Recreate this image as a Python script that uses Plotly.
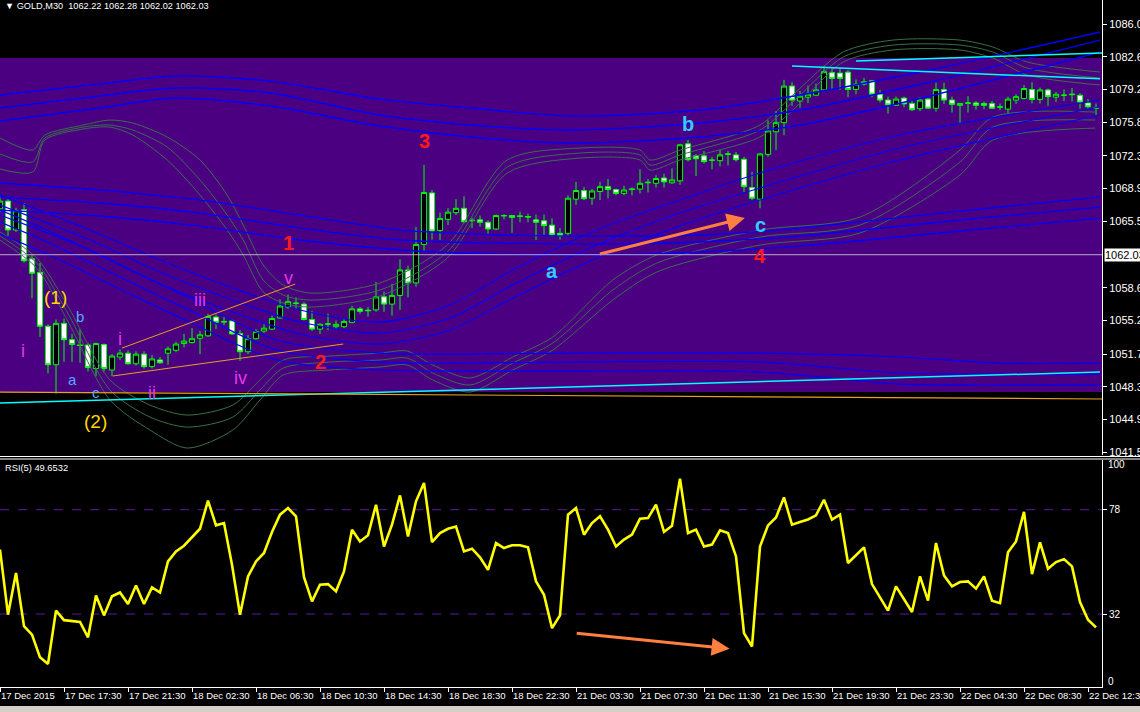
import plotly.graph_objects as go

# ---------------- data ----------------
tick_bars = [0, 8, 16, 24, 32, 40, 48, 56, 64, 72, 80, 88, 96, 104, 112, 120, 128, 136]
tick_text = ["17 Dec 2015", "17 Dec 17:30", "17 Dec 21:30", "18 Dec 02:30", "18 Dec 06:30",
             "18 Dec 10:30", "18 Dec 14:30", "18 Dec 18:30", "18 Dec 22:30", "21 Dec 03:30",
             "21 Dec 07:30", "21 Dec 11:30", "21 Dec 15:30", "21 Dec 19:30", "21 Dec 23:30",
             "22 Dec 04:30", "22 Dec 08:30", "22 Dec 12:30"]

price_ticks = [1086.00, 1082.60, 1079.20, 1075.80, 1072.30, 1068.90, 1065.50,
               1058.60, 1055.20, 1051.70, 1048.30, 1044.90, 1041.50]
last_price = 1062.03

opens = [1066.8, 1067.6, 1064.6, 1066.7, 1061.6, 1060.2, 1054.6, 1050.6, 1054.9, 1053.2,
         1052.65, 1052.65, 1050.2, 1052.7, 1050.05, 1051.4, 1051.8, 1050.7, 1051.7, 1050.4,
         1051.1, 1051.8, 1052.1, 1052.8, 1052.9, 1053.35, 1053.6, 1055.55, 1055.1, 1055.15,
         1053.85, 1051.95, 1053.3, 1054.1, 1054.3, 1055.45, 1056.6, 1056.95, 1056.9, 1055.3,
         1054.3, 1054.8, 1054.55, 1054.55, 1055.0, 1056.4, 1056.2, 1056.3, 1057.65, 1056.9,
         1057.8, 1060.45, 1059.1, 1063.1, 1068.45, 1064.55, 1065.7, 1066.4, 1066.85, 1065.55,
         1065.65, 1065.4, 1064.7, 1066.05, 1066.1, 1066.0, 1066.0, 1065.65, 1065.55, 1065.1,
         1064.25, 1064.25, 1067.8, 1068.7, 1067.9, 1068.6, 1069.1, 1068.8, 1068.4, 1068.8,
         1068.85, 1069.5, 1069.45, 1070.0, 1069.5, 1069.7, 1073.55, 1072.3, 1072.3, 1071.85,
         1071.8, 1072.45, 1072.4, 1071.95, 1069.0, 1067.8, 1072.45, 1074.8, 1075.75, 1079.55,
         1078.0, 1078.4, 1078.6, 1079.15, 1080.95, 1080.9, 1081.0, 1079.2, 1079.75, 1080.1,
         1078.7, 1078.1, 1077.55, 1078.3, 1077.75, 1077.2, 1078.2, 1077.25, 1079.2, 1078.1,
         1077.55, 1077.75, 1077.8, 1077.75, 1077.75, 1077.35, 1077.15, 1078.1, 1078.25, 1079.2,
         1078.15, 1079.15, 1078.4, 1078.6, 1078.65, 1078.6, 1077.8, 1077.25]
highs = [1068.1, 1067.8, 1066.9, 1067.4, 1062.0, 1061.2, 1054.8, 1055.3, 1055.4, 1053.8,
         1054.3, 1052.85, 1052.9, 1052.8, 1051.7, 1052.2, 1052.1, 1052.0, 1052.0, 1051.6,
         1051.4, 1052.5, 1053.0, 1053.8, 1054.4, 1054.1, 1055.9, 1055.8, 1055.6, 1055.3,
         1054.2, 1053.7, 1054.3, 1054.8, 1055.7, 1057.4, 1057.9, 1057.6, 1057.1, 1056.2,
         1054.9, 1055.9, 1055.2, 1055.4, 1056.7, 1056.6, 1056.6, 1059.2, 1058.2, 1059.0,
         1061.55, 1060.9, 1064.9, 1071.35, 1068.75, 1066.4, 1066.85, 1067.8, 1068.1, 1065.9,
         1066.1, 1065.6, 1066.2, 1066.25, 1066.15, 1066.5, 1066.3, 1066.2, 1066.2, 1065.8,
         1064.8, 1068.2, 1069.6, 1069.05, 1068.85, 1069.6, 1069.9, 1068.9, 1069.2, 1069.0,
         1070.9, 1069.9, 1070.3, 1070.45, 1071.0, 1073.55, 1073.95, 1072.5, 1072.8, 1072.2,
         1072.9, 1072.8, 1072.7, 1072.2, 1070.65, 1072.6, 1076.0, 1076.95, 1080.2, 1079.95,
         1079.05, 1079.6, 1079.8, 1081.65, 1081.4, 1081.4, 1081.2, 1080.25, 1080.4, 1080.2,
         1079.15, 1078.45, 1078.45, 1078.45, 1078.1, 1078.4, 1078.3, 1079.9, 1079.9, 1078.45,
         1077.75, 1078.5, 1078.0, 1077.95, 1078.0, 1077.75, 1078.45, 1078.7, 1079.65, 1079.95,
         1079.4, 1079.3, 1078.95, 1079.2, 1079.35, 1078.8, 1078.2, 1077.75]
lows = [1066.5, 1064.0, 1064.4, 1061.2, 1057.5, 1053.5, 1049.7, 1047.6, 1050.9, 1050.9,
        1050.8, 1049.9, 1049.4, 1049.9, 1049.4, 1051.1, 1050.6, 1050.5, 1050.2, 1050.2,
        1050.7, 1050.6, 1051.9, 1052.4, 1052.8, 1051.7, 1053.5, 1054.3, 1054.7, 1053.7,
        1051.0, 1051.7, 1053.2, 1053.9, 1054.2, 1055.4, 1056.4, 1056.4, 1055.2, 1054.1,
        1053.8, 1054.2, 1054.3, 1054.4, 1054.9, 1055.9, 1055.6, 1056.1, 1056.1, 1055.7,
        1056.3, 1057.6, 1058.7, 1062.45, 1063.6, 1063.55, 1065.1, 1066.15, 1065.3, 1064.8,
        1064.95, 1064.2, 1064.6, 1065.7, 1064.3, 1065.4, 1065.4, 1063.55, 1064.1, 1063.9,
        1063.6, 1064.0, 1067.2, 1067.7, 1067.2, 1067.7, 1067.9, 1068.2, 1068.2, 1068.2,
        1068.4, 1068.5, 1069.0, 1069.0, 1069.4, 1069.3, 1071.7, 1070.2, 1071.5, 1070.9,
        1071.2, 1071.3, 1071.7, 1068.5, 1067.7, 1066.85, 1072.2, 1072.9, 1074.45, 1077.5,
        1077.3, 1077.8, 1078.5, 1079.0, 1079.2, 1079.15, 1078.4, 1078.7, 1079.6, 1078.4,
        1077.85, 1076.7, 1077.5, 1077.35, 1076.95, 1076.95, 1077.2, 1076.9, 1077.7, 1076.8,
        1075.7, 1076.8, 1077.1, 1077.15, 1077.15, 1077.05, 1076.7, 1077.7, 1078.2, 1077.75,
        1077.75, 1077.5, 1077.9, 1078.0, 1077.95, 1077.2, 1077.2, 1076.55]
closes = [1067.6, 1064.6, 1066.6, 1061.4, 1060.1, 1054.6, 1050.6, 1054.9, 1053.2, 1052.7,
          1052.6, 1050.3, 1052.8, 1050.2, 1051.5, 1051.8, 1050.7, 1051.7, 1050.4, 1051.2,
          1050.8, 1052.25, 1052.75, 1053.05, 1053.3, 1053.7, 1055.6, 1055.0, 1055.05, 1053.8,
          1051.95, 1053.3, 1054.05, 1054.4, 1055.4, 1056.7, 1057.15, 1057.0, 1055.3, 1054.3,
          1054.8, 1054.85, 1054.8, 1055.1, 1056.4, 1056.15, 1056.25, 1057.65, 1056.9, 1057.8,
          1060.45, 1059.1, 1063.1, 1068.5, 1064.5, 1065.8, 1066.45, 1066.85, 1065.45, 1065.6,
          1065.4, 1064.7, 1066.1, 1066.1, 1065.9, 1066.05, 1065.95, 1065.4, 1065.05, 1064.1,
          1064.0, 1067.9, 1068.7, 1067.85, 1068.65, 1069.1, 1068.8, 1068.4, 1068.75, 1068.85,
          1069.45, 1069.55, 1069.95, 1069.6, 1069.8, 1073.45, 1071.9, 1072.0, 1071.7, 1071.85,
          1072.4, 1072.5, 1071.9, 1069.1, 1067.9, 1072.5, 1074.9, 1075.75, 1079.55, 1078.1,
          1078.5, 1078.7, 1079.15, 1081.05, 1080.35, 1080.35, 1079.2, 1079.75, 1080.0, 1078.7,
          1078.1, 1077.6, 1078.2, 1077.7, 1077.1, 1078.1, 1077.25, 1079.2, 1078.1, 1077.65,
          1077.75, 1077.8, 1077.55, 1077.55, 1077.25, 1077.4, 1078.2, 1078.45, 1079.3, 1078.15,
          1079.15, 1078.45, 1078.7, 1078.6, 1078.7, 1077.9, 1077.4, 1077.25]

rsi = [60.4, 31.7, 50.1, 26.6, 22.9, 12.9, 10.0, 33.5, 29.3, 28.8,
       28.5, 21.7, 40.2, 31.4, 39.8, 41.5, 36.4, 44.6, 36.4, 43.7,
       41.5, 55.2, 59.6, 62.1, 65.8, 69.6, 82.0, 71.1, 72.1, 53.7,
       31.7, 48.6, 55.2, 58.9, 68.2, 75.8, 78.7, 75.1, 48.2, 37.6,
       44.9, 45.2, 42.0, 50.8, 69.2, 64.0, 66.7, 80.2, 61.8, 71.4,
       84.3, 66.2, 81.7, 89.8, 63.7, 67.7, 69.6, 70.6, 59.6, 60.8,
       57.0, 51.5, 63.3, 61.1, 62.3, 62.3, 61.4, 46.4, 40.5, 25.8,
       31.4, 75.8, 78.7, 67.0, 72.1, 75.1, 69.2, 61.8, 64.8, 67.0,
       74.0, 74.3, 80.2, 68.2, 70.9, 91.7, 67.7, 69.2, 61.8, 62.6,
       68.9, 67.7, 57.4, 23.6, 17.7, 61.8, 71.1, 74.6, 83.4, 71.4,
       72.6, 73.7, 75.5, 82.4, 73.6, 75.8, 54.5, 57.9, 61.4, 45.2,
       39.3, 33.5, 44.2, 38.3, 32.9, 48.6, 37.9, 63.3, 49.0, 44.2,
       46.1, 46.4, 43.2, 48.6, 37.9, 36.8, 59.2, 64.0, 77.0, 49.6,
       63.6, 52.0, 54.9, 56.2, 53.0, 37.3, 29.5, 26.1]
rsi_levels = [78, 32]
rsi_label_vals = ["100", "78", "32", "0"]

# envelope lines (blue) - bar positions and prices
env_a_x = [0, 12.5, 21.9, 33.75, 47.5, 58.75, 71.25, 87.5, 100, 116.25, 137.5]
env_a1 = [1078.62, 1079.76, 1080.60, 1080.07, 1078.20, 1077.27, 1076.44, 1077.06, 1078.62, 1081.22, 1085.17]
env_a2 = [1077.27, 1078.52, 1079.35, 1078.83, 1076.54, 1075.50, 1074.98, 1075.71, 1077.06, 1079.97, 1084.33]
env_a3 = [1075.92, 1077.27, 1078.31, 1077.48, 1075.40, 1074.26, 1073.63, 1074.26, 1075.50, 1078.52, 1083.09]

env_b_x = [0, 12.5, 25, 37.5, 50, 62.5, 75, 87.5, 100, 118.75, 137.5]
env_b1 = [1069.48, 1068.75, 1067.71, 1066.15, 1064.60, 1064.08, 1063.97, 1064.08, 1064.80, 1066.46, 1068.02]
env_b2 = [1068.02, 1067.40, 1066.36, 1064.80, 1063.56, 1063.24, 1063.14, 1063.35, 1063.97, 1065.53, 1066.98]
env_b3 = [1066.67, 1066.05, 1065.01, 1063.56, 1062.52, 1062.10, 1061.99, 1062.31, 1062.93, 1064.39, 1065.84]

env_c_x = [0, 11.25, 20, 29.1, 37.5, 47.5, 56.25, 64.1, 74.6, 85, 95, 112.5, 137.5]
env_c1 = [1068.23, 1064.60, 1061.48, 1058.57, 1056.28, 1055.03, 1056.80, 1060.44, 1064.60, 1067.71, 1070.52, 1074.47, 1078.10]
env_c2 = [1067.19, 1063.56, 1060.23, 1057.32, 1055.03, 1053.89, 1055.45, 1058.88, 1063.04, 1066.36, 1068.96, 1073.12, 1077.37]
env_c3 = [1066.15, 1062.52, 1058.98, 1056.07, 1053.79, 1052.75, 1054.21, 1057.53, 1061.68, 1065.01, 1067.71, 1071.87, 1076.54]

env_d_x = [0, 5.9, 15, 23.4, 34.6, 47.5, 71.25, 95, 112.5, 125, 137.5]
env_d1 = [1066.67, 1064.60, 1060.96, 1057.63, 1053.17, 1051.81, 1051.81, 1051.81, 1051.40, 1050.77, 1050.77]
env_d2 = [1065.42, 1063.35, 1059.71, 1056.38, 1052.13, 1050.88, 1050.88, 1050.88, 1049.74, 1049.63, 1049.63]
env_d3 = [1064.18, 1062.10, 1058.46, 1055.14, 1051.09, 1050.05, 1049.94, 1049.84, 1048.59, 1048.49, 1048.49]

# band lines (dark green)
band_up_x = [0, 4.1, 5.6, 10.4, 13.75, 16.6, 20.9, 25, 28.4, 30.4, 32.9, 35.4, 38.75, 47.5,
             55.9, 63.4, 72.5, 80, 81.25, 85, 95, 99.1, 105.4, 111.6, 120, 124.1, 128.4, 137.5]
band_up1 = [1074.15, 1072.90, 1074.46, 1075.50, 1076.02, 1075.71, 1074.26, 1071.87, 1068.23, 1065.11,
            1060.96, 1058.88, 1058.05, 1059.09, 1063.03, 1071.87, 1073.11, 1072.90, 1071.87, 1072.90,
            1075.50, 1078.62, 1083.09, 1084.33, 1084.33, 1083.61, 1082.05, 1081.01]
band_up2 = [1072.49, 1071.66, 1074.15, 1075.29, 1075.50, 1074.98, 1073.22, 1069.79, 1066.15, 1063.55,
            1059.40, 1057.84, 1057.32, 1058.36, 1062.31, 1071.14, 1072.59, 1072.39, 1071.35, 1072.39,
            1074.98, 1077.89, 1082.57, 1083.81, 1083.81, 1083.09, 1081.42, 1080.39]
band_up3 = [1070.93, 1070.62, 1073.94, 1075.09, 1075.29, 1074.46, 1071.87, 1068.23, 1064.59, 1062.00,
            1058.15, 1057.01, 1056.59, 1057.74, 1061.68, 1070.52, 1072.07, 1071.87, 1070.83, 1071.87,
            1074.26, 1077.06, 1082.05, 1083.30, 1083.30, 1082.46, 1080.70, 1079.66]

band_lo_x = [0, 4.6, 8.4, 13.75, 18.75, 23.4, 29.1, 32.5, 35.4, 41.25, 47.5, 50.9, 54.1, 58.75,
             64.1, 69.1, 76.6, 82.1, 95, 107.5, 120, 124.1, 136.9]
band_lo1 = [1064.39, 1061.68, 1056.80, 1049.01, 1046.41, 1045.37, 1046.41, 1049.01, 1051.09, 1051.50,
            1051.81, 1052.02, 1050.57, 1049.22, 1051.40, 1053.48, 1059.40, 1062.00, 1064.59, 1065.94,
            1072.90, 1076.33, 1076.85]
band_lo2 = [1063.97, 1061.16, 1056.07, 1047.97, 1045.16, 1044.12, 1045.16, 1047.97, 1050.25, 1050.88,
            1051.09, 1051.29, 1049.74, 1048.49, 1050.77, 1052.85, 1058.36, 1061.16, 1063.87, 1065.11,
            1071.66, 1075.29, 1076.02]
band_lo3 = [1063.55, 1060.64, 1055.24, 1046.93, 1043.81, 1041.94, 1043.81, 1046.93, 1049.53, 1050.05,
            1050.36, 1050.57, 1049.01, 1047.76, 1050.05, 1052.13, 1057.32, 1060.23, 1063.03, 1064.28,
            1070.31, 1073.94, 1075.19]

# trend lines (objects)
cyan_low_x = [0, 137.5]
cyan_low_y = [1046.62, 1049.84]
orange_low_x = [0, 137.75]
orange_low_y = [1047.76, 1047.04]
cyan_up1_x = [99, 137.5]
cyan_up1_y = [1081.64, 1080.30]
cyan_up2_x = [107, 137.75]
cyan_up2_y = [1082.15, 1082.98]
wedge_top_x = [15.25, 36.9]
wedge_top_y = [1052.33, 1058.98]
wedge_bot_x = [14.1, 42.9]
wedge_bot_y = [1049.43, 1052.75]
rect_prices = [1047.77, 1082.47]

# wave labels
wave_text = ["(1)", "(2)", "i", "a", "b", "c", "i", "ii", "iii", "iv", "v",
             "1", "2", "3", "4", "a", "b", "c"]
wave_bar = [6.9, 11.9, 2.9, 9.0, 10.0, 12.0, 15.0, 19.0, 25.0, 30.1, 36.1,
            36.0, 40.0, 53.0, 95.0, 69.0, 86.0, 95.0]
wave_price = [1057.63, 1044.75, 1052.02, 1049.1, 1055.56, 1047.76, 1053.27, 1047.66, 1057.32,
              1049.22, 1059.6, 1063.24, 1050.88, 1073.84, 1061.9, 1060.34, 1075.6, 1065.1]
wave_kind = ["major", "major", "minor", "sub", "sub", "sub", "minor", "minor", "minor", "minor",
             "minor", "red", "red", "red", "red", "cyan", "cyan", "cyan"]

# arrows: (tail bar, tail value, head bar, head value)
price_arrow = (74.8, 1062.07, 93.1, 1065.85)
rsi_arrow = (71.9, 23.6, 91.2, 16.7)

# ---------------- figure ----------------
W, H = 1140, 712
XR = 1102 / W
bars = list(range(len(opens)))

FONT = "Liberation Sans, Arial, sans-serif"
BLUE = "#0000FF"
GREEN = "#3A6E4A"

fig = go.Figure()

def add_line(x, y, color, width, shape="spline", xa="x", ya="y", dash=None):
    fig.add_trace(go.Scatter(x=x, y=y, mode="lines", xaxis=xa, yaxis=ya,
                             line=dict(color=color, width=width, shape=shape,
                                       smoothing=0.8 if shape == "spline" else None,
                                       dash=dash),
                             hoverinfo="skip", showlegend=False))

for ys in (band_up1, band_up2, band_up3):
    add_line(band_up_x, ys, GREEN, 1)
for ys in (band_lo1, band_lo2, band_lo3):
    add_line(band_lo_x, ys, GREEN, 1)
for ys in (env_a1, env_a2, env_a3):
    add_line(env_a_x, ys, BLUE, 1.4)
for ys in (env_b1, env_b2, env_b3):
    add_line(env_b_x, ys, BLUE, 1.3)
for ys in (env_c1, env_c2, env_c3):
    add_line(env_c_x, ys, BLUE, 1.1)
for ys in (env_d1, env_d2, env_d3):
    add_line(env_d_x, ys, BLUE, 1.2)

add_line(cyan_low_x, cyan_low_y, "#00FFFF", 1.5, "linear")
add_line(orange_low_x, orange_low_y, "#E8A020", 1.2, "linear")
add_line(cyan_up1_x, cyan_up1_y, "#00FFFF", 1.5, "linear")
add_line(cyan_up2_x, cyan_up2_y, "#00FFFF", 1.5, "linear")
add_line(wedge_top_x, wedge_top_y, "#E8A020", 1, "linear")
add_line(wedge_bot_x, wedge_bot_y, "#E8A020", 1, "linear")
add_line([0, 137.75], [last_price, last_price], "#B4ACC8", 1, "linear")

fig.add_trace(go.Candlestick(
    x=bars, open=opens, high=highs, low=lows, close=closes,
    increasing=dict(line=dict(color="#00FF00", width=1), fillcolor="#000000"),
    decreasing=dict(line=dict(color="#00FF00", width=1), fillcolor="#FFFFFF"),
    whiskerwidth=0, hoverinfo="skip", showlegend=False))

# RSI
add_line(bars, rsi, "#FFFF00", 2.6, "linear", "x2", "y2")

shapes = [
    dict(type="rect", xref="paper", yref="y", x0=0, x1=XR, y0=rect_prices[0], y1=rect_prices[1],
         fillcolor="#4B0082", line=dict(width=0), layer="below"),
    dict(type="line", xref="paper", yref="paper", x0=0, x1=1, y0=1 - 456.5 / H, y1=1 - 456.5 / H,
         line=dict(color="white", width=1)),
    dict(type="line", xref="paper", yref="paper", x0=0, x1=1, y0=1 - 459 / H, y1=1 - 459 / H,
         line=dict(color="white", width=1)),
    dict(type="rect", xref="paper", yref="paper", x0=0, x1=1, y0=0, y1=1 - 706 / H,
         fillcolor="#D4D0C8", line=dict(width=0)),
]
for lv in rsi_levels:
    shapes.append(dict(type="line", xref="paper", yref="y2", x0=0, x1=XR, y0=lv, y1=lv,
                       line=dict(color="#5A1AA8", width=1, dash="dash"), layer="below"))

annotations = []
styles = {
    "major": dict(color="#FFD700", size=19, bold=False),
    "minor": dict(color="#E23AE2", size=18, bold=False),
    "sub": dict(color="#55AAFF", size=15, bold=False),
    "red": dict(color="#FF1A1A", size=20, bold=True),
    "cyan": dict(color="#33CCFF", size=20, bold=True),
}
for t, bx, pv, k in zip(wave_text, wave_bar, wave_price, wave_kind):
    st = styles[k]
    txt = f"<b>{t}</b>" if st["bold"] else t
    annotations.append(dict(x=bx, y=pv, xref="x", yref="y", text=txt, showarrow=False,
                            font=dict(family=FONT, size=st["size"], color=st["color"]),
                            xanchor="center", yanchor="middle"))

for (tx, ty, hx, hy), xr, yr in ((price_arrow, "x", "y"), (rsi_arrow, "x2", "y2")):
    annotations.append(dict(x=hx, y=hy, ax=tx, ay=ty, xref=xr, yref=yr, axref=xr, ayref=yr,
                            text="", showarrow=True, arrowhead=2, arrowsize=1.2, arrowwidth=3,
                            arrowcolor="#FF7F40"))

annotations += [
    dict(x=3 / W, y=1 - 6 / H, xref="paper", yref="paper", xanchor="left", yanchor="middle",
         text="▼ GOLD,M30  1062.22 1062.28 1062.02 1062.03", showarrow=False,
         font=dict(family=FONT, size=9.2, color="white")),
    dict(x=3 / W, y=1 - 467.5 / H, xref="paper", yref="paper", xanchor="left", yanchor="middle",
         text="RSI(5) 49.6532", showarrow=False, font=dict(family=FONT, size=9.3, color="white")),
    dict(x=1104 / W, y=last_price, xref="paper", yref="y", xanchor="left", yanchor="middle",
         text=f"{last_price:.2f}", showarrow=False, bgcolor="white", borderpad=0,
         font=dict(family=FONT, size=11, color="black")),
    dict(x=1106 / W, y=1 - 465 / H, xref="paper", yref="paper", xanchor="left", yanchor="middle",
         text=rsi_label_vals[0], showarrow=False, font=dict(family=FONT, size=10, color="white")),
    dict(x=1106 / W, y=1 - 681 / H, xref="paper", yref="paper", xanchor="left", yanchor="middle",
         text=rsi_label_vals[3], showarrow=False, font=dict(family=FONT, size=10, color="white")),
]

fig.update_layout(
    width=W, height=H, margin=dict(l=0, r=0, t=0, b=0, autoexpand=False),
    paper_bgcolor="black", plot_bgcolor="black", showlegend=False,
    boxgap=0.35, boxgroupgap=0,
    shapes=shapes, annotations=annotations,
    xaxis=dict(domain=[0, XR], range=[0, 137.75], anchor="y", showticklabels=False,
               showgrid=False, zeroline=False, showline=False, ticks="", automargin=False,
               rangeslider=dict(visible=False), fixedrange=True),
    yaxis=dict(domain=[1 - 455 / H, 1], range=[1041.22, 1088.494], anchor="x", side="right",
               tickvals=price_ticks, ticktext=[f"{v:.2f}" for v in price_ticks],
               ticks="outside", ticklen=4, tickcolor="white", showline=True, linecolor="white",
               linewidth=1, showgrid=False, zeroline=False, automargin=False,
               tickfont=dict(family=FONT, size=11, color="white")),
    xaxis2=dict(domain=[0, XR], range=[0, 137.75], anchor="y2", tickvals=tick_bars,
                ticktext=tick_text, ticklabelposition="outside right", ticks="outside",
                ticklen=4, tickcolor="white", showline=True, linecolor="white", linewidth=1,
                showgrid=False, zeroline=False, tickangle=0, automargin=False,
                ticklabeloverflow="allow",
                tickfont=dict(family=FONT, size=9.5, color="white")),
    yaxis2=dict(domain=[1 - 686.6 / H, 1 - 459.8 / H], range=[0, 100], anchor="x2", side="right",
                tickvals=rsi_levels, ticktext=[rsi_label_vals[1], rsi_label_vals[2]],
                ticks="outside", ticklen=4, tickcolor="white", showline=True, linecolor="white",
                linewidth=1, showgrid=False, zeroline=False, automargin=False,
                tickfont=dict(family=FONT, size=10, color="white")),
)

fig.write_html("out.html", config={"displayModeBar": False},
               post_script="document.body.style.margin='0';document.body.style.background='black';")
